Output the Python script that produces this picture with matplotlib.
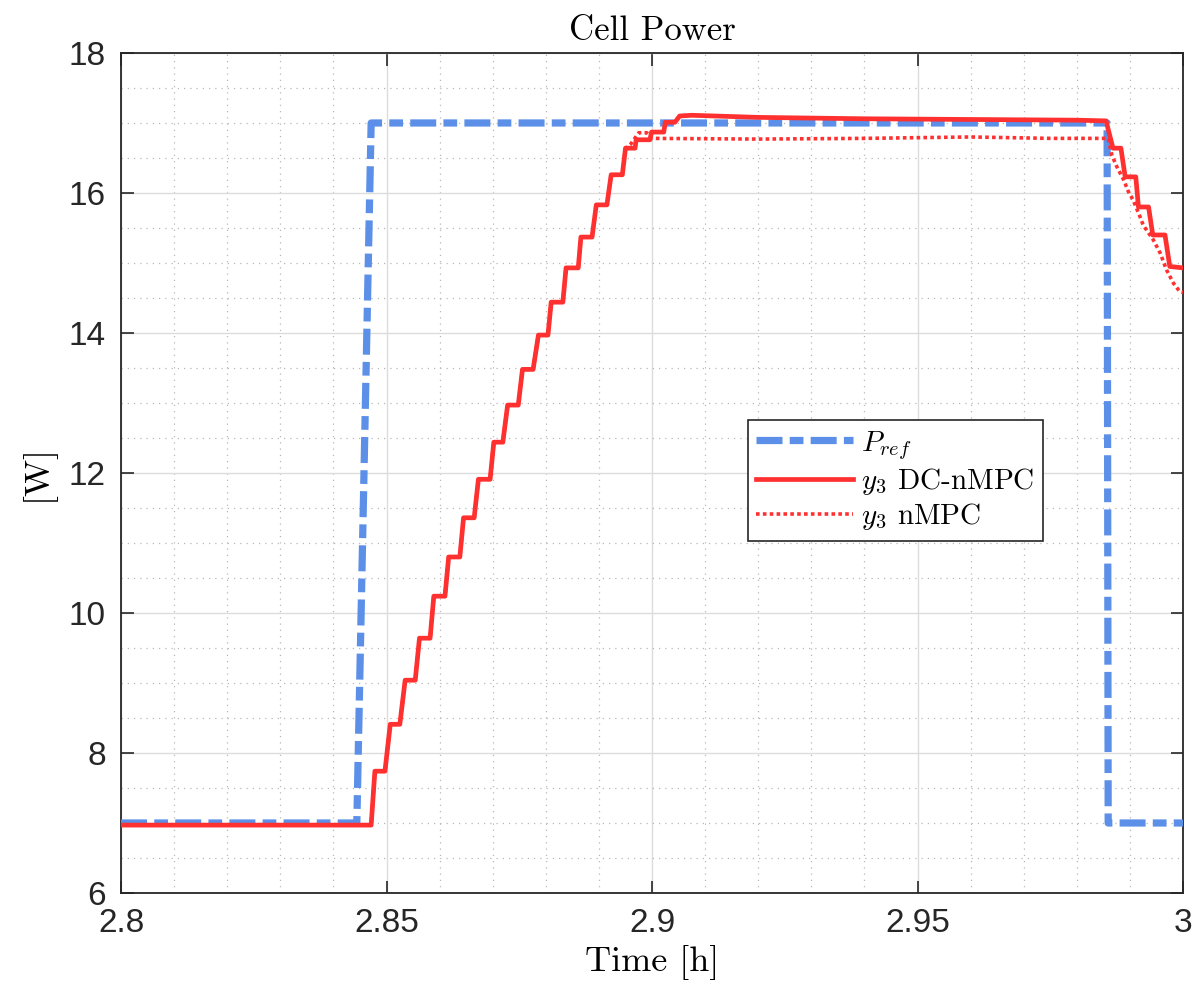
import matplotlib
matplotlib.use("Agg")
import matplotlib.pyplot as plt
from matplotlib.ticker import MultipleLocator

# ---------------- data ----------------
ref_t = [2.8000, 2.8444, 2.8471, 2.9857, 2.9859, 3.0000]
ref_p = [7.00, 7.00, 17.00, 17.00, 7.00, 7.00]

dc_t = [2.8000, 2.8471, 2.8478, 2.8497, 2.8507, 2.8525, 2.8535, 2.8554,
        2.8562, 2.8582, 2.8589, 2.8610, 2.8617, 2.8638, 2.8645, 2.8665,
        2.8673, 2.8695, 2.8702, 2.8719, 2.8728, 2.8748, 2.8756, 2.8776,
        2.8786, 2.8804, 2.8810, 2.8832, 2.8838, 2.8861, 2.8866, 2.8887,
        2.8895, 2.8915, 2.8923, 2.8944, 2.8950, 2.8968, 2.8970, 2.8996,
        2.8999, 2.9022, 2.9025, 2.9043, 2.9052, 2.9075, 2.9200, 2.9400,
        2.9600, 2.9800, 2.9855, 2.9868, 2.9883, 2.9891, 2.9911, 2.9916,
        2.9935, 2.9943, 2.9966, 2.9975, 3.0000]
dc_p = [6.97, 6.97, 7.74, 7.74, 8.41, 8.41, 9.04, 9.04,
        9.64, 9.64, 10.24, 10.24, 10.80, 10.80, 11.36, 11.36,
        11.91, 11.91, 12.44, 12.44, 12.97, 12.97, 13.48, 13.48,
        13.97, 13.97, 14.44, 14.44, 14.93, 14.93, 15.37, 15.37,
        15.83, 15.83, 16.26, 16.26, 16.64, 16.64, 16.76, 16.76,
        16.87, 16.87, 17.01, 17.01, 17.10, 17.11, 17.08, 17.06,
        17.05, 17.04, 17.03, 16.64, 16.64, 16.23, 16.23, 15.80,
        15.80, 15.40, 15.40, 14.95, 14.93]

nmpc_t = [2.8000, 2.8471, 2.8478, 2.8497, 2.8507, 2.8525, 2.8535, 2.8554,
          2.8562, 2.8582, 2.8589, 2.8610, 2.8617, 2.8638, 2.8645, 2.8665,
          2.8673, 2.8695, 2.8702, 2.8719, 2.8728, 2.8748, 2.8756, 2.8776,
          2.8786, 2.8804, 2.8810, 2.8832, 2.8838, 2.8861, 2.8866, 2.8887,
          2.8895, 2.8915, 2.8923, 2.8944, 2.8950, 2.8960, 2.8975, 2.8990,
          2.9000, 2.9200, 2.9400, 2.9600, 2.9750, 2.9859, 2.9866, 2.9875,
          2.9888, 2.9897, 2.9906, 2.9919, 2.9925, 2.9944, 2.9957, 2.9969,
          2.9982, 2.9994, 3.0000]
nmpc_p = [6.97, 6.97, 7.74, 7.74, 8.41, 8.41, 9.04, 9.04,
          9.64, 9.64, 10.24, 10.24, 10.80, 10.80, 11.36, 11.36,
          11.91, 11.91, 12.44, 12.44, 12.97, 12.97, 13.48, 13.48,
          13.97, 13.97, 14.44, 14.44, 14.93, 14.93, 15.37, 15.37,
          15.83, 15.83, 16.26, 16.26, 16.64, 16.70, 16.86, 16.86,
          16.78, 16.77, 16.78, 16.80, 16.78, 16.78, 16.54, 16.38,
          16.19, 16.02, 15.90, 15.66, 15.54, 15.33, 15.14, 14.90,
          14.71, 14.59, 14.58]

BLUE = "#5b8fe8"
RED = "#ff3030"
INK = "#262626"

plt.rcParams["mathtext.fontset"] = "cm"
plt.rcParams["axes.formatter.use_mathtext"] = False
SERIF = "cmr10"
TICKFONT = "Liberation Sans"

fig = plt.figure(figsize=(11.95, 9.92), dpi=100)
ax = fig.add_axes([0.1013, 0.0998, 0.8887, 0.8468])

ax.plot(ref_t, ref_p, color=BLUE, lw=5.2, ls=(0, (3.6, 1.0, 1.9, 1.0)),
        label=r"$P_{ref}$", zorder=3)
ax.plot(dc_t, dc_p, color=RED, lw=3.4, label=r"$y_3$ DC-nMPC", zorder=4,
        solid_joinstyle="round")
ax.plot(nmpc_t, nmpc_p, color=RED, lw=2.6, ls=(0, (1.0, 0.9)),
        label=r"$y_3$ nMPC", zorder=4)

ax.set_xlim(2.8, 3.0)
ax.set_ylim(6, 18)
ax.xaxis.set_minor_locator(MultipleLocator(0.01))
ax.yaxis.set_minor_locator(MultipleLocator(0.5))
ax.set_xticks([2.8, 2.85, 2.9, 2.95, 3.0])
ax.set_xticklabels(["2.8", "2.85", "2.9", "2.95", "3"])
ax.set_yticks([6, 8, 10, 12, 14, 16, 18])
ax.set_yticklabels(["6", "8", "10", "12", "14", "16", "18"])

ax.grid(which="major", color="#dcdcdc", lw=1.0, ls="-")
ax.grid(which="minor", color="#b8b8b8", lw=0.9, ls=(0, (1, 4)))
ax.set_axisbelow(True)

ax.tick_params(which="major", direction="in", length=9, width=1.2,
               top=True, right=True, colors=INK, labelsize=24, pad=11)
ax.tick_params(which="minor", length=0)
for lab in ax.get_xticklabels() + ax.get_yticklabels():
    lab.set_fontfamily(TICKFONT)
for s in ax.spines.values():
    s.set_color(INK)
    s.set_linewidth(1.3)

ax.set_title("Cell Power", fontfamily=SERIF, fontsize=25, pad=9)
ax.set_xlabel("Time [h]", fontfamily=SERIF, fontsize=26, labelpad=4)
ax.set_ylabel("[W]", fontfamily=SERIF, fontsize=26, labelpad=10)

leg = ax.legend(loc="upper left", bbox_to_anchor=(0.590, 0.563),
                prop={"family": SERIF, "size": 21}, frameon=True,
                fancybox=False, edgecolor=INK, framealpha=1,
                handlelength=3.3, borderpad=0.3, labelspacing=0.15,
                handletextpad=0.3, borderaxespad=0)
leg.get_frame().set_linewidth(1.2)

fig.savefig("out.png", dpi=100)
